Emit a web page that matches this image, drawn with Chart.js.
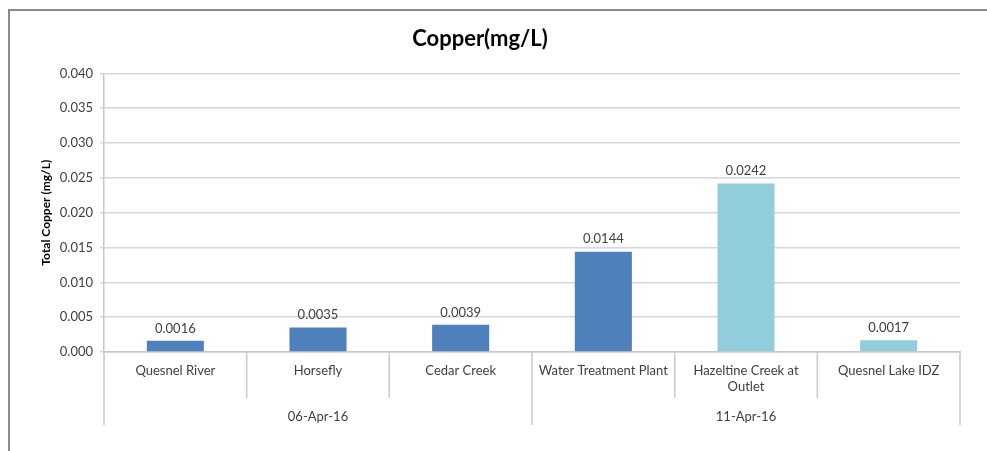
<!DOCTYPE html>
<html>
<head>
<meta charset="utf-8">
<script src="https://cdn.jsdelivr.net/npm/chart.js@4.4.1/dist/chart.umd.min.js"></script>
<style>
    body { margin: 0; background: #fff; }
    #wrap { position: relative; width: 987px; height: 451px; }
    #frame { position: absolute; left: 8px; top: 9px; width: 990px; height: 460px;
             border-left: 2px solid #8a8a8a; border-top: 2px solid #8a8a8a; }
    canvas { position: absolute; left: 0; top: 0; }
</style>
</head>
<body>
<div id="wrap">
    <div id="frame"></div>
    <canvas id="chartCopper" width="987" height="451"></canvas>
</div>
<script>
    // site names (multi-line where Excel wrapped them)
    var siteLabels = [
        'Quesnel River',
        'Horsefly',
        'Cedar Creek',
        'Water Treatment Plant',
        ['Hazeltine Creek at', 'Outlet'],
        'Quesnel Lake IDZ'
    ];
    var copperValues = [0.0016, 0.0035, 0.0039, 0.0144, 0.0242, 0.0017];
    var barColors = ['#4F81BD', '#4F81BD', '#4F81BD', '#4F81BD', '#92CDDC', '#92CDDC'];

    // sampling dates, each covering a run of sites
    var dateLabels = ['06-Apr-16', '11-Apr-16'];
    var dateCounts = [3, 3];

    var fontName = 'Lato, "Open Sans", sans-serif';
    var textColor = '#404040';

    // value labels above bars
    const valueLabels = {
        id: 'valueLabels',
        afterDatasetsDraw: function (chart) {
            const ctx = chart.ctx;
            const meta = chart.getDatasetMeta(0);
            ctx.save();
            ctx.font = '13px ' + fontName;
            ctx.fillStyle = textColor;
            ctx.textAlign = 'center';
            ctx.textBaseline = 'bottom';
            meta.data.forEach(function (bar, idx) {
                ctx.fillText(copperValues[idx].toFixed(4), bar.x, bar.y - 6);
            });
            ctx.restore();
        }
    };

    // category separators + date group row under the x axis
    const groupAxis = {
        id: 'groupAxis',
        afterDraw: function (chart) {
            const ctx = chart.ctx;
            const xs = chart.scales.x;
            const n = siteLabels.length;
            const step = (xs.right - xs.left) / n;
            const base = xs.top;
            ctx.save();
            ctx.strokeStyle = '#c8c8c8';
            ctx.lineWidth = 1.5;

            let groupEdges = [0];
            let acc = 0;
            for (let c of dateCounts) { acc += c; groupEdges.push(acc); }

            for (let i = 0; i <= n; i++) {
                let x = xs.left + step * i;
                let bottom = groupEdges.indexOf(i) >= 0 ? base + 73 : base + 46;
                ctx.beginPath();
                ctx.moveTo(x, base);
                ctx.lineTo(x, bottom);
                ctx.stroke();
            }

            ctx.font = '13px ' + fontName;
            ctx.fillStyle = textColor;
            ctx.textAlign = 'center';
            ctx.textBaseline = 'middle';
            for (let g = 0; g < dateLabels.length; g++) {
                let x0 = xs.left + step * groupEdges[g];
                let x1 = xs.left + step * groupEdges[g + 1];
                ctx.fillText(dateLabels[g], (x0 + x1) / 2, base + 65);
            }
            ctx.restore();
        }
    };

    let ctx1 = document.getElementById('chartCopper').getContext('2d');

    let copperChart = new Chart(ctx1, {
        type: 'bar',
        data: {
            labels: siteLabels,
            datasets: [{
                label: 'Copper',
                data: copperValues,
                backgroundColor: barColors,
                borderWidth: 0,
                barPercentage: 0.4,
                categoryPercentage: 1.0
            }]
        },
        plugins: [valueLabels, groupAxis],
        options: {
            responsive: false,
            animation: false,
            events: [],
            layout: {
                padding: { left: 0, right: 27, top: 0, bottom: 0 }
            },
            plugins: {
                legend: { display: false },
                tooltip: { enabled: false },
                title: {
                    display: true,
                    text: 'Copper(mg/L)',
                    color: '#000',
                    font: { family: fontName, size: 22, weight: 'bold' },
                    padding: { top: 26, bottom: 21 }
                }
            },
            scales: {
                x: {
                    grid: { display: false },
                    border: { display: true, color: '#c8c8c8', width: 1.5 },
                    ticks: {
                        color: textColor,
                        font: { family: fontName, size: 13 },
                        padding: 3,
                        maxRotation: 0,
                        autoSkip: false
                    },
                    afterFit: function (scale) { scale.height = 99; }
                },
                y: {
                    min: 0,
                    max: 0.04,
                    ticks: {
                        stepSize: 0.005,
                        color: textColor,
                        font: { family: fontName, size: 13 },
                        padding: 7,
                        callback: function (v) { return v.toFixed(3); }
                    },
                    grid: { color: '#d6d6d6', lineWidth: 1.5, tickLength: 4 },
                    border: { display: true, color: '#c8c8c8', width: 1.5 },
                    title: {
                        display: true,
                        text: 'Total Copper (mg/L)',
                        color: '#000',
                        font: { family: fontName, size: 12, weight: 'bold' },
                        padding: { top: 39, bottom: 0 }
                    },
                    afterFit: function (scale) { scale.width = 104; }
                }
            }
        }
    });
</script>
</body>
</html>
